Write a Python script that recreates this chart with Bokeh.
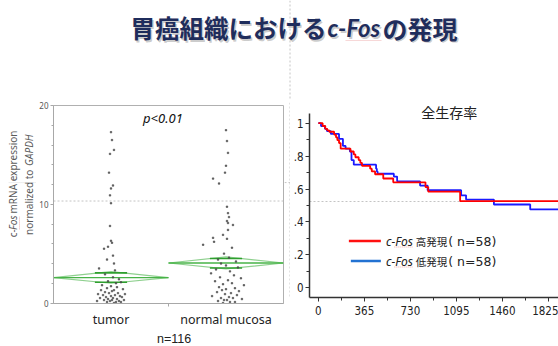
import math
from bokeh.plotting import figure
from bokeh.layouts import column, row
from bokeh.models import Range1d, FixedTicker, Label, BoxAnnotation, Span
from bokeh.embed import file_html
from bokeh.resources import INLINE

# ---------------- data ----------------
title_main = "胃癌組織における"
title_gene = "c-Fos"
title_tail = "の発現"

groups = ["tumor", "normal mucosa"]
n_label = "n=116"
p_label = "p<0.01"
ylab1 = ["c-", "Fos", "mRNA expression"]
ylab2 = ["normalized to", "GAPDH"]

tumor_expr = [17.3, 16.5, 15.5, 15.1, 13.2, 11.9, 11.6, 10.9, 10.1, 7.8,
              6.3, 6.1, 5.7, 5.5, 4.8, 4.4, 4.0, 3.5, 3.3, 2.9,
              2.6, 2.4, 2.2, 2.1, 2.0, 1.8, 1.7, 1.6, 1.5, 1.4,
              1.3, 1.3, 1.2, 1.1, 1.0, 1.0, 0.9, 0.9, 0.8, 0.8,
              0.7, 0.7, 0.6, 0.6, 0.5, 0.5, 0.4, 0.4, 0.3, 0.3,
              0.3, 0.2, 0.2, 0.2, 0.1, 0.1, 0.1, 0.0]
tumor_jitter = [0, 1, 3, -1, -2, 2, 0, -1, 0, -1, 0, 1, -3, -7, 2, -4, 3, -12, 4, -6,
                2, 8, -3, 10, 5, -9, 0, 6, -4, 12, -10, 3, 1, -6, 7, -2, 14, -13, 4, -8,
                9, 0, -5, 11, 2, -11, 6, -3, 13, -7, 1, 8, -1, -14, 5, 10, -4, 3]
normal_expr = [17.5, 16.4, 15.2, 13.9, 13.2, 12.6, 12.1, 9.75, 9.1, 8.7,
               8.3, 8.1, 7.9, 7.4, 6.9, 6.6, 6.5, 6.2, 5.9, 5.6,
               5.0, 4.6, 4.4, 4.2, 4.0, 3.8, 3.6, 3.4, 3.2, 3.0,
               2.8, 2.6, 2.5, 2.3, 2.2, 2.0, 1.9, 1.8, 1.6, 1.5,
               1.4, 1.3, 1.2, 1.1, 1.0, 0.9, 0.8, 0.7, 0.6, 0.5,
               0.5, 0.4, 0.3, 0.3, 0.2, 0.1, 0.1, 0.0]
normal_jitter = [0, 1, 2, 0, -1, -13, -7, 1, 2, 3, 1, 2, 7, 2, -3, -13, 1, -12, -23, 6,
                 -2, 3, -8, 10, -5, 0, 12, -10, 4, -15, 8, -6, 15, 2, -11, 6, -3, 18, -7, 9,
                 0, -4, 13, -9, 5, -1, 11, -14, 3, 7, -5, 16, -2, 1, -8, 4, 9, -3]

group_mean = [2.57, 4.05]
group_ci_low = [2.0, 3.45]
group_ci_high = [3.17, 4.68]
group_ovl_low = [2.1, 3.55]
group_ovl_high = [3.05, 4.5]
left_yticks = [0, 10, 20]
left_yminor = [2, 4, 6, 8, 12, 14, 16, 18]

km_title = "全生存率"
days_high = [0, 34, 55, 70, 86, 125, 140, 151, 164, 177, 255, 281, 294, 320, 333, 346,
             411, 424, 450, 515, 594, 850, 872, 1125, 1905]
surv_high = [1.0, 0.983, 0.966, 0.957, 0.948, 0.931, 0.914, 0.897, 0.879, 0.845, 0.828, 0.810,
             0.793, 0.776, 0.759, 0.741, 0.724, 0.707, 0.690, 0.664, 0.641, 0.612, 0.584, 0.526, 0.526]
days_low = [0, 21, 52, 68, 99, 164, 195, 216, 250, 263, 281, 458, 464, 470, 599, 625,
            807, 867, 1133, 1172, 1393, 1681, 1905]
surv_low = [1.0, 0.983, 0.966, 0.952, 0.935, 0.905, 0.862, 0.845, 0.828, 0.776, 0.748, 0.724,
            0.707, 0.693, 0.676, 0.647, 0.621, 0.593, 0.562, 0.536, 0.506, 0.476, 0.476]
legend_gene = "c-Fos"
legend_high = "高発現"
legend_low = "低発現"
legend_n = "( n=58)"
km_xticks = [0, 365, 730, 1095, 1460, 1825]
km_yticks = [0, 0.2, 0.4, 0.6, 0.8, 1]
km_ylabels = ["0", ".2", ".4", ".6", ".8", "1"]

GUIDE = "#c4c4c4"
SQUIG = "#e07070"


def add_label(fig, x, y, text, size, color="#222222", font="Noto Sans", style="normal",
              align="left", baseline="middle", angle=0.0, alpha=1.0):
    fig.add_layout(Label(x=x, y=y, text=text, text_font=font, text_font_size=f"{size}px",
                         text_color=color, text_font_style=style, text_align=align,
                         text_baseline=baseline, angle=angle, angle_units="rad",
                         text_alpha=alpha))


def guide(fig, l, r, t, b, color=GUIDE, dash="2 2", width=1):
    fig.add_layout(BoxAnnotation(left=l, right=r, top=t, bottom=b, fill_alpha=0,
                                 line_color=color, line_dash=dash, line_width=width,
                                 level="underlay"))


def strip(width, height, x0, x1, y0, y1):
    # a plain canvas whose data coordinates are page pixels (y downwards)
    f = figure(width=width, height=height, x_range=Range1d(x0, x1), y_range=Range1d(y1, y0),
               output_backend="svg", toolbar_location=None, min_border=0,
               x_axis_location=None, y_axis_location=None)
    f.grid.visible = False
    f.outline_line_color = None
    return f


# ---------------- title strip ----------------
top = strip(558, 100, 0, 558, 0, 100)
top.add_layout(Span(location=289.5, dimension="height", line_color=GUIDE,
                    line_dash="2 2", line_width=1))
TITLE_C = "#1f2d5c"
for dx, col, al in [(1.6, "#8c8c8c", 0.45), (0, TITLE_C, 1.0)]:
    add_label(top, 130 + dx, 27 + dx, title_main, 24.5, col, "Noto Sans CJK JP", "bold", alpha=al)
    add_label(top, 327 + dx, 27 + dx, title_gene, 24, col, "Lato", "bold italic", alpha=al)
    add_label(top, 382 + dx, 27 + dx, title_tail, 25, col, "Noto Sans CJK JP", "bold", alpha=al)
guide(top, 345, 381, 40, 40, color=SQUIG, dash="1 1")

# ---------------- y-label strip ----------------
lab = strip(36, 246, 0, 36, 100, 346)
guide(lab, 8, 36, 201, 201)
ROT = math.pi / 2
LAB_C = "#5a5a5a"
add_label(lab, 12.5, 270, ylab1[0], 10, LAB_C, angle=ROT)
add_label(lab, 12.5, 261, ylab1[1], 10, LAB_C, style="italic", angle=ROT)
add_label(lab, 12.5, 240, ylab1[2], 10, LAB_C, angle=ROT)
add_label(lab, 28, 267, ylab2[0], 10, LAB_C, angle=ROT)
add_label(lab, 28, 180, ylab2[1], 10, LAB_C, style="italic", angle=ROT)
guide(lab, 19, 19, 244, 260.5, color=SQUIG, dash="1 1")

# ---------------- left: oneway plot ----------------
def ly(py):
    return (303.5 - py) / 9.925


left = figure(width=248, height=230, min_border_left=16, min_border_right=1,
              min_border_top=5, min_border_bottom=26,
              x_range=Range1d(0, 2), y_range=Range1d(ly(304), ly(105)),
              output_backend="svg", toolbar_location=None)
left.grid.visible = False
left.outline_line_color = "#b0b0b0"
left.add_layout(Span(location=ly(201), dimension="width", line_color=GUIDE,
                     line_dash="2 2", line_width=1, level="underlay"))

centers = [0.5, 1.5]
for i, c in enumerate(centers):
    m, lo, hi = group_mean[i], group_ci_low[i], group_ci_high[i]
    left.line([c - 0.5, c, c + 0.5, c, c - 0.5], [m, hi, m, lo, m],
              line_color="#8fd08f", line_width=1.2)
    left.line([c - 0.5, c + 0.5], [m, m], line_color="#47b347", line_width=1.3)
    for yv in (group_ovl_low[i], group_ovl_high[i]):
        left.line([c - 0.14, c + 0.14], [yv, yv], line_color="#2f9f2f", line_width=1.6)

for c, vals, jit in [(0.5, tumor_expr, tumor_jitter), (1.5, normal_expr, normal_jitter)]:
    xs = [c + j / 115.5 for j in jit]
    left.scatter(xs, vals, marker="square", size=1.4, color="#4a4a4a", alpha=0.75)

left.xaxis.ticker = FixedTicker(ticks=centers, minor_ticks=[1])
left.xaxis.major_label_overrides = {0.5: groups[0], 1.5: groups[1]}
left.xaxis.major_tick_out = 0
left.xaxis.major_tick_in = 0
left.xaxis.minor_tick_out = 3
left.xaxis.minor_tick_in = 0
left.xaxis.major_label_standoff = 4
left.xaxis.major_label_text_font = "Noto Sans"
left.xaxis.major_label_text_font_size = "12.5px"
left.xaxis.major_label_text_color = "#222222"
left.yaxis.ticker = FixedTicker(ticks=left_yticks, minor_ticks=left_yminor)
left.yaxis.major_tick_out = 3
left.yaxis.major_tick_in = 0
left.yaxis.minor_tick_out = 2
left.yaxis.minor_tick_in = 0
left.yaxis.major_label_standoff = 2
left.yaxis.major_label_text_font = "Noto Sans"
left.yaxis.major_label_text_font_size = "8px"
left.yaxis.major_label_text_color = "#555555"
for ax in (left.xaxis, left.yaxis):
    ax.axis_line_color = "#a8a8a8"
    ax.major_tick_line_color = "#a8a8a8"
    ax.minor_tick_line_color = "#a8a8a8"

add_label(left, 0.952, ly(118), p_label, 13, "#111111", "Noto Sans", "italic", align="center")

nstrip = strip(248, 16, 36, 284, 330, 346)
add_label(nstrip, 166, 338, n_label, 12.5, "#222222", "Liberation Sans", align="center")

# ---------------- gap strip with the vertical guide ----------------
gap = strip(6, 246, 284, 290, 100, 346)
gap.add_layout(Span(location=289.5, dimension="height", line_color=GUIDE, line_dash="2 2", line_width=1))
gap.add_layout(Span(location=201, dimension="width", line_color=GUIDE, line_dash="2 2", line_width=1))

# ---------------- right: Kaplan-Meier ----------------
def rx(px):
    return (px - 314) / 0.12805


def ry(py):
    return (287.3 - py) / 164.6


right = figure(width=268, height=246, min_border_left=15, min_border_right=0,
               min_border_top=2, min_border_bottom=49,
               x_range=Range1d(rx(305), rx(558)), y_range=Range1d(ry(297), ry(102)),
               output_backend="svg", toolbar_location=None)
right.grid.visible = False
right.outline_line_color = None
right.add_layout(Span(location=ry(201), dimension="width", line_color=GUIDE,
                      line_dash="2 2", line_width=1, level="underlay"))

right.step(days_low, surv_low, mode="after", line_color="#1a1aff", line_width=1.8)
right.step(days_high, surv_high, mode="after", line_color="#ff0000", line_width=1.8)

add_label(right, rx(447), ry(111), km_title, 14, "#222222", "Noto Sans CJK JP", align="center")

# legend
for yc, col, x0, lab_txt in [(240.5, "#ff1010", 345, legend_high), (260.5, "#2272d2", 347, legend_low)]:
    right.add_layout(BoxAnnotation(left=rx(x0), right=rx(377.5), top=ry(yc - 1.3), bottom=ry(yc + 1.3),
                                   fill_color=col, fill_alpha=1, line_color=None))
    add_label(right, rx(382.7), ry(yc), legend_gene, 12, "#222222", "Noto Sans", "italic")
    add_label(right, rx(413), ry(yc), lab_txt, 10.5, "#222222", "Noto Sans CJK JP")
    add_label(right, rx(446), ry(yc), legend_n, 12.5, "#222222", "DejaVu Sans")
    guide(right, rx(391), rx(410), ry(yc + 6), ry(yc + 6), color=SQUIG, dash="1 1")

right.xaxis.ticker = FixedTicker(ticks=km_xticks,
                                 minor_ticks=[(a + b) / 2 for a, b in zip(km_xticks[:-1], km_xticks[1:])])
right.yaxis.ticker = FixedTicker(ticks=km_yticks,
                                 minor_ticks=[(a + b) / 2 for a, b in zip(km_yticks[:-1], km_yticks[1:])])
right.yaxis.major_label_overrides = {k: v for k, v in zip(km_yticks, km_ylabels)}
right.yaxis.bounds = (ry(297), ry(113))
for ax in (right.xaxis, right.yaxis):
    ax.axis_line_color = "#333333"
    ax.axis_line_width = 1.5
    ax.major_tick_line_color = "#333333"
    ax.minor_tick_line_color = "#333333"
    ax.major_tick_out = 4
    ax.major_tick_in = 0
    ax.minor_tick_out = 3
    ax.minor_tick_in = 0
    ax.major_label_text_font = "Liberation Sans Narrow, DejaVu Sans Condensed, sans-serif"
    ax.major_label_text_font_size = "11.5px"
    ax.major_label_text_color = "#222222"
right.xaxis.major_label_standoff = 4
right.yaxis.major_label_standoff = 2

layout = column(top, row(lab, column(left, nstrip), gap, right))

open("out.html", "w").write(file_html(layout, INLINE))
